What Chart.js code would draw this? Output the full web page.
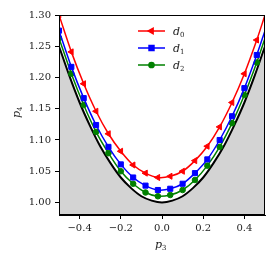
<!DOCTYPE html>
<html>
<head>
<meta charset="utf-8">
<script src="https://cdn.jsdelivr.net/npm/chart.js@4"></script>
<style>
    html, body { margin: 0; padding: 0; background: #ffffff; }
    #wrap { width: 280px; height: 263px; }
</style>
</head>
<body>
<div id="wrap"><canvas id="curveChart" width="280" height="263"></canvas></div>
<script>
// Sample positions (markers) for the three d curves, last point has no marker
const xMarks = [-0.50, -0.44, -0.38, -0.32, -0.26, -0.20, -0.14, -0.08, -0.02, 0.04, 0.10, 0.16, 0.22, 0.28, 0.34, 0.40, 0.46, 0.50];
const d0 = [1.300, 1.241, 1.190, 1.146, 1.110, 1.082, 1.060, 1.047, 1.040, 1.042, 1.050, 1.067, 1.090, 1.121, 1.160, 1.206, 1.260, 1.300];
const d1 = [1.275, 1.217, 1.167, 1.124, 1.089, 1.061, 1.040, 1.027, 1.020, 1.022, 1.030, 1.047, 1.069, 1.100, 1.138, 1.183, 1.236, 1.275];
const d2 = [1.263, 1.206, 1.156, 1.113, 1.079, 1.050, 1.030, 1.016, 1.010, 1.012, 1.020, 1.036, 1.059, 1.089, 1.127, 1.172, 1.224, 1.263];

// Lower boundary (black curve, shaded below)
const xBound = [-0.50, -0.45, -0.40, -0.35, -0.30, -0.25, -0.20, -0.15, -0.10, -0.05, 0.00, 0.05, 0.10, 0.15, 0.20, 0.25, 0.30, 0.35, 0.40, 0.45, 0.50];
const yBound = [1.250, 1.203, 1.160, 1.123, 1.090, 1.063, 1.040, 1.023, 1.010, 1.003, 1.000, 1.003, 1.010, 1.023, 1.040, 1.063, 1.090, 1.123, 1.160, 1.203, 1.250];

// Tick labels
const xTicks = [-0.4, -0.2, 0.0, 0.2, 0.4];
const xTickLabels = ['\u22120.4', '\u22120.2', '0.0', '0.2', '0.4'];
const yTicks = [1.00, 1.05, 1.10, 1.15, 1.20, 1.25, 1.30];
const yTickLabels = ['1.00', '1.05', '1.10', '1.15', '1.20', '1.25', '1.30'];

const seriesNames = ['0', '1', '2'];
const seriesColors = ['#ff0000', '#0000ff', '#008000'];

const serif = '"DejaVu Serif", serif';

function toPoints(xs, ys) {
    return xs.map((x, i) => ({ x: x, y: ys[i] }));
}

// marker on every sample except the closing one at x = 0.5
function markRadius(r) {
    return xMarks.map((x, i) => (i === xMarks.length - 1 ? 0 : r));
}

// Draws the frame, the legend and the subscripted axis titles
const decorPlugin = {
    id: 'decor',
    afterDraw(chart) {
        const c = chart.ctx;
        const a = chart.chartArea;
        c.save();
        c.strokeStyle = '#000000';
        c.lineWidth = 1;
        c.strokeRect(a.left + 0.5, a.top + 0.5, a.right - a.left - 1, a.bottom - a.top - 1);

        // legend
        const rows = [31, 48, 65];
        const styles = ['triangle', 'rect', 'circle'];
        const rots = [-90, 0, 0];
        const sizes = [3.2, 3.5, 2.6];
        rows.forEach((y, i) => {
            c.strokeStyle = seriesColors[i];
            c.lineWidth = 1.5;
            c.beginPath();
            c.moveTo(138, y);
            c.lineTo(165, y);
            c.stroke();
            c.fillStyle = seriesColors[i];
            Chart.helpers.drawPoint(c, {
                pointStyle: styles[i], radius: sizes[i], rotation: rots[i], borderWidth: 1
            }, 151.5, y);
            c.fillStyle = '#222222';
            c.textBaseline = 'alphabetic';
            c.textAlign = 'left';
            c.font = 'italic 11px ' + serif;
            c.fillText('d', 173, y + 4);
            c.font = '7px ' + serif;
            c.fillText(seriesNames[i], 180, y + 6);
        });

        // axis titles
        c.fillStyle = '#222222';
        c.font = 'italic 11px ' + serif;
        c.textAlign = 'left';
        c.fillText('p', 155, 248);
        c.font = '7px ' + serif;
        c.fillText('3', 162, 250);

        c.translate(20, 118);
        c.rotate(-Math.PI / 2);
        c.font = 'italic 11px ' + serif;
        c.fillText('p', 0, 0);
        c.font = '7px ' + serif;
        c.fillText('4', 7, 2);
        c.restore();
    }
};

const curveChart = new Chart(document.getElementById('curveChart'), {
    type: 'line',
    data: {
        datasets: [
            {
                label: 'd0',
                data: toPoints(xMarks, d0),
                borderColor: seriesColors[0],
                backgroundColor: seriesColors[0],
                borderWidth: 1.5,
                pointStyle: 'triangle',
                pointRotation: -90,
                pointRadius: markRadius(3.5),
                pointBorderWidth: 1,
                tension: 0.3,
                fill: false,
                order: 1
            },
            {
                label: 'd1',
                data: toPoints(xMarks, d1),
                borderColor: seriesColors[1],
                backgroundColor: seriesColors[1],
                borderWidth: 1.5,
                pointStyle: 'rect',
                pointRadius: markRadius(3.6),
                pointBorderWidth: 1,
                tension: 0.3,
                fill: false,
                order: 2
            },
            {
                label: 'd2',
                data: toPoints(xMarks, d2),
                borderColor: seriesColors[2],
                backgroundColor: seriesColors[2],
                borderWidth: 1.5,
                pointStyle: 'circle',
                pointRadius: markRadius(2.8),
                pointBorderWidth: 1,
                tension: 0.3,
                fill: false,
                order: 3
            },
            {
                label: 'bound',
                data: toPoints(xBound, yBound),
                borderColor: '#000000',
                backgroundColor: '#d3d3d3',
                borderWidth: 2,
                pointRadius: 0,
                tension: 0.3,
                fill: 'start',
                order: 4
            }
        ]
    },
    options: {
        responsive: false,
        animation: false,
        events: [],
        layout: {
            padding: { top: 15, right: 15, left: 0, bottom: 0 }
        },
        plugins: {
            legend: { display: false },
            tooltip: { enabled: false }
        },
        scales: {
            x: {
                type: 'linear',
                min: -0.5,
                max: 0.5,
                afterFit: function(scale) { scale.height = 48; },
                afterBuildTicks: function(scale) {
                    scale.ticks = xTicks.map(v => ({ value: v }));
                },
                grid: {
                    drawOnChartArea: false,
                    drawTicks: true,
                    tickLength: 4,
                    color: '#000000'
                },
                border: { display: true, color: '#000000', width: 1 },
                ticks: {
                    color: '#222222',
                    padding: 3,
                    maxRotation: 0,
                    font: { family: serif, size: 10 },
                    callback: function(value) {
                        const i = xTicks.findIndex(t => Math.abs(t - value) < 1e-9);
                        return i >= 0 ? xTickLabels[i] : '';
                    }
                }
            },
            y: {
                type: 'linear',
                min: 0.98,
                max: 1.30,
                afterFit: function(scale) { scale.width = 59; },
                afterBuildTicks: function(scale) {
                    scale.ticks = yTicks.map(v => ({ value: v }));
                },
                grid: {
                    drawOnChartArea: false,
                    drawTicks: true,
                    tickLength: 4,
                    color: '#000000'
                },
                border: { display: true, color: '#000000', width: 1 },
                ticks: {
                    color: '#222222',
                    padding: 4,
                    font: { family: serif, size: 10 },
                    callback: function(value) {
                        const i = yTicks.findIndex(t => Math.abs(t - value) < 1e-9);
                        return i >= 0 ? yTickLabels[i] : '';
                    }
                }
            }
        }
    },
    plugins: [decorPlugin]
});
</script>
</body>
</html>
